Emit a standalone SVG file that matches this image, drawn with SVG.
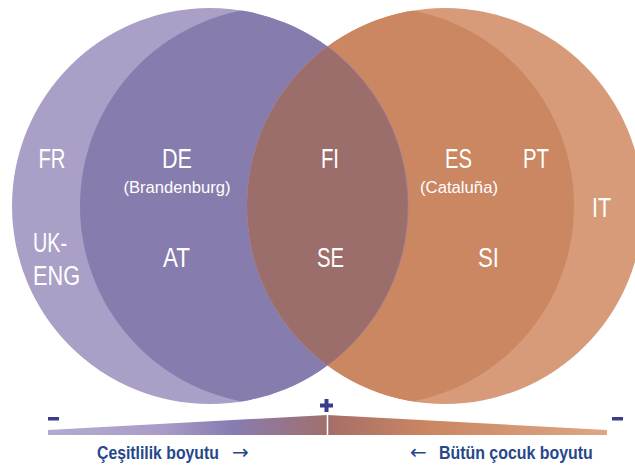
<svg xmlns="http://www.w3.org/2000/svg" width="635" height="469" viewBox="0 0 635 469">
  <style>
    .lbl { font-family: "Liberation Sans", Arial, sans-serif; font-size: 27px; fill: #ffffff; text-anchor: middle; }
    .sub { font-family: "Liberation Sans", Arial, sans-serif; font-size: 17px; fill: #ffffff; text-anchor: middle; }
    .axis { font-family: "Liberation Sans", Arial, sans-serif; font-size: 19px; font-weight: bold; fill: #27478a; }
    .arr { font-family: "DejaVu Sans", "Liberation Sans", sans-serif; font-size: 20px; fill: #27478a; }
    .sign { fill: #3b3d8a; }
  </style>
  <defs>
    <clipPath id="clipA"><circle cx="210" cy="206" r="198"/></clipPath>
    <clipPath id="clipD"><circle cx="445" cy="206" r="198"/></clipPath>
    <linearGradient id="barGrad" gradientUnits="userSpaceOnUse" x1="48" y1="0" x2="607" y2="0">
      <stop offset="0" stop-color="#b4aad0"/>
      <stop offset="0.2" stop-color="#a99dc8"/>
      <stop offset="0.33" stop-color="#887cb2"/>
      <stop offset="0.499" stop-color="#a0706c"/>
      <stop offset="0.501" stop-color="#a66e68"/>
      <stop offset="0.68" stop-color="#cb8662"/>
      <stop offset="1" stop-color="#dea685"/>
    </linearGradient>
  </defs>

  <g id="circle-left-outer">
    <circle cx="210" cy="206" r="198" fill="#aa9fc7"/>
  </g>
  <g id="circle-left-inner">
    <circle cx="279" cy="206" r="199" fill="#877cae" clip-path="url(#clipA)"/>
  </g>
  <g id="circle-right-outer">
    <circle cx="445" cy="206" r="198" fill="#d79b79"/>
  </g>
  <g id="circle-right-inner">
    <circle cx="375" cy="206" r="199" fill="#cb8662" clip-path="url(#clipD)"/>
  </g>
  <g id="overlap">
    <circle cx="445" cy="206" r="198" fill="#9c6e6b" clip-path="url(#clipA)"/>
    <circle cx="210" cy="206" r="198" fill="none" stroke="#8c7fb8" stroke-width="1" stroke-opacity="0.5" clip-path="url(#clipD)"/>
  </g>

  <g id="labels">
    <text class="lbl" x="52" y="168" textLength="27" lengthAdjust="spacingAndGlyphs">FR</text>
    <text class="lbl" x="177" y="168" textLength="30" lengthAdjust="spacingAndGlyphs">DE</text>
    <text class="sub" x="177" y="193" textLength="107" lengthAdjust="spacingAndGlyphs">(Brandenburg)</text>
    <text class="lbl" x="330" y="168" textLength="18" lengthAdjust="spacingAndGlyphs">FI</text>
    <text class="lbl" x="458.5" y="168" textLength="27" lengthAdjust="spacingAndGlyphs">ES</text>
    <text class="sub" x="459" y="193" textLength="78" lengthAdjust="spacingAndGlyphs">(Cataluña)</text>
    <text class="lbl" x="536" y="168" textLength="26" lengthAdjust="spacingAndGlyphs">PT</text>
    <text class="lbl" x="601.5" y="217" textLength="19" lengthAdjust="spacingAndGlyphs">IT</text>
    <text class="lbl" x="33" y="252" style="text-anchor:start" textLength="34" lengthAdjust="spacingAndGlyphs">UK-</text>
    <text class="lbl" x="33" y="285" style="text-anchor:start" textLength="47" lengthAdjust="spacingAndGlyphs">ENG</text>
    <text class="lbl" x="176.5" y="267" textLength="27" lengthAdjust="spacingAndGlyphs">AT</text>
    <text class="lbl" x="330.5" y="267" textLength="27" lengthAdjust="spacingAndGlyphs">SE</text>
    <text class="lbl" x="488.5" y="267" textLength="21" lengthAdjust="spacingAndGlyphs">SI</text>
  </g>

  <g id="scale">
    <polygon points="48,430 327.5,415 607,430 607,435 48,435" fill="url(#barGrad)"/>
    <line x1="327.5" y1="415" x2="327.5" y2="435" stroke="#ffffff" stroke-width="1.5"/>
    <rect class="sign" x="48" y="417" width="11" height="3.5"/>
    <rect class="sign" x="612" y="417" width="11" height="3.5"/>
    <rect class="sign" x="320" y="403.5" width="13" height="4"/>
    <rect class="sign" x="324.5" y="399" width="4" height="13"/>
    <text class="axis" transform="translate(97,459) scale(0.831,1)" x="0" y="0">Çeşitlilik boyutu</text>
    <text class="arr" x="232" y="459">→</text>
    <text class="arr" x="410" y="459">←</text>
    <text class="axis" transform="translate(439,459) scale(0.838,1)" x="0" y="0">Bütün çocuk boyutu</text>
  </g>
</svg>
